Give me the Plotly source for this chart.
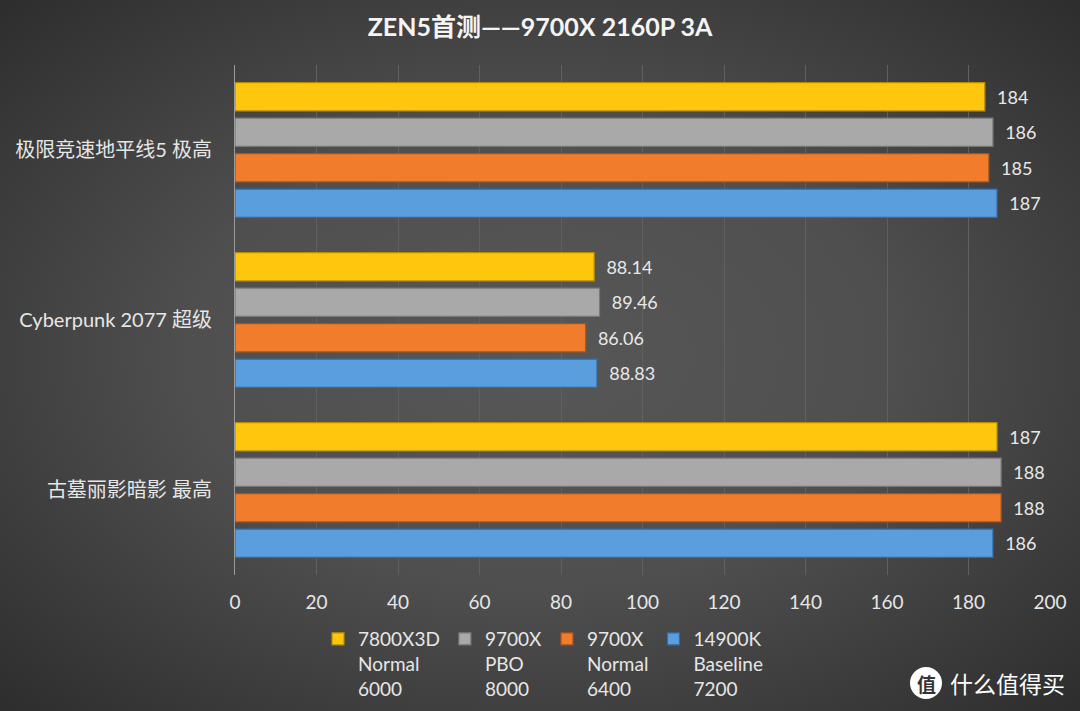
import base64
import plotly.graph_objects as go

categories = ["极限竞速地平线5 极高", "Cyberpunk 2077 超级", "古墓丽影暗影 最高"]
series_names = ["7800X3D<br>Normal<br>6000", "9700X<br>PBO<br>8000",
                "9700X<br>Normal<br>6400", "14900K<br>Baseline<br>7200"]
v_7800x3d = [184, 88.14, 187]
v_9700x_pbo = [186, 89.46, 188]
v_9700x_normal = [185, 86.06, 188]
v_14900k = [187, 88.83, 186]
series_values = [v_7800x3d, v_9700x_pbo, v_9700x_normal, v_14900k]
colors = ["#FEC70E", "#A9A9A9", "#F07C2C", "#5A9EDE"]
edges = ["#B88E00", "#787878", "#A9531A", "#2E6BA8"]
x_ticks = [0, 20, 40, 60, 80, 100, 120, 140, 160, 180, 200]

FONT = "Lato, 'Noto Sans CJK SC', sans-serif"

# Background vignette (radial gradient) as an SVG data URI
svg = ("<svg xmlns='http://www.w3.org/2000/svg' width='1080' height='711' "
       "preserveAspectRatio='none' viewBox='0 0 1080 711'><defs>"
       "<radialGradient id='g' cx='0.5' cy='0.5' r='0.72'>"
       "<stop offset='0' stop-color='#575757'/>"
       "<stop offset='0.45' stop-color='#4f4f4f'/>"
       "<stop offset='1' stop-color='#2c2c2c'/>"
       "</radialGradient></defs>"
       "<rect width='1080' height='711' fill='url(#g)'/></svg>")
bg_uri = "data:image/svg+xml;base64," + base64.b64encode(svg.encode()).decode()

L, R, T, B = 235, 30, 65, 136
PW, PH = 1080 - L - R, 711 - T - B


def px(xp):
    return (xp - L) / PW


def py(yp):
    return (711 - B - yp) / PH


fig = go.Figure()
for name, vals, c, e in zip(series_names, series_values, colors, edges):
    fig.add_trace(go.Bar(
        y=categories, x=vals, orientation="h", name=name,
        marker=dict(color=c, line=dict(color=e, width=1.2)),
        text=[f"{v:g}" for v in vals], texttemplate="  %{text}",
        textposition="outside", cliponaxis=False,
        textfont=dict(color="#E8E8E8", size=18, family=FONT),
    ))

fig.update_layout(
    width=1080, height=711, autosize=False,
    paper_bgcolor="#3e3e3e", plot_bgcolor="rgba(0,0,0,0)",
    margin=dict(l=L, r=R, t=T, b=B, autoexpand=False),
    barmode="group", bargap=0.165, bargroupgap=0.2,
    font=dict(family=FONT, color="#E6E6E6", size=18),
    title=dict(text="<b>ZEN5首测——9700X 2160P 3A</b>", x=0.5, xanchor="center",
               y=1 - 27 / 711, yanchor="middle",
               font=dict(size=25, color="#F4F4F4", family=FONT)),
    legend=dict(orientation="h", x=px(318), xanchor="left",
                y=py(620), yanchor="top", valign="top",
                font=dict(size=19, color="#E6E6E6", family=FONT),
                bgcolor="rgba(0,0,0,0)", itemclick=False, itemwidth=30),
    xaxis=dict(range=[0, 200], tickvals=x_ticks, showgrid=True,
               gridcolor="#606060", gridwidth=1, zeroline=False,
               showline=False, ticks="", tickangle=0, ticklabelstandoff=14,
               tickfont=dict(size=19, color="#E6E6E6", family=FONT)),
    yaxis=dict(autorange="reversed", showline=True, linecolor="#9A9A9A",
               linewidth=1, ticks="", ticklabelstandoff=18,
               tickfont=dict(size=20, color="#E6E6E6", family=FONT)),
    showlegend=True,
    images=[dict(source=bg_uri, xref="paper", yref="paper",
                 x=px(0), y=py(0), sizex=1080 / PW, sizey=711 / PH,
                 xanchor="left", yanchor="top", sizing="stretch",
                 layer="below")],
)

# watermark
fig.add_shape(type="circle", xref="paper", yref="paper",
              x0=px(910), x1=px(942), y0=py(699), y1=py(667),
              fillcolor="#FFFFFF", line=dict(width=0))
fig.add_annotation(xref="paper", yref="paper", x=px(926), y=py(683),
                   xanchor="center", yanchor="middle",
                   text="<b>值</b>", showarrow=False,
                   font=dict(size=19, color="#333333", family="Noto Sans CJK SC"))
fig.add_annotation(xref="paper", yref="paper", x=px(948), y=py(683),
                   xanchor="left", yanchor="middle", text="什么值得买", showarrow=False,
                   font=dict(size=23, color="#FFFFFF", family="Noto Sans CJK SC"))

fig.write_html("out.html", config={"displayModeBar": False},
               post_script="document.body.style.margin='0';")
